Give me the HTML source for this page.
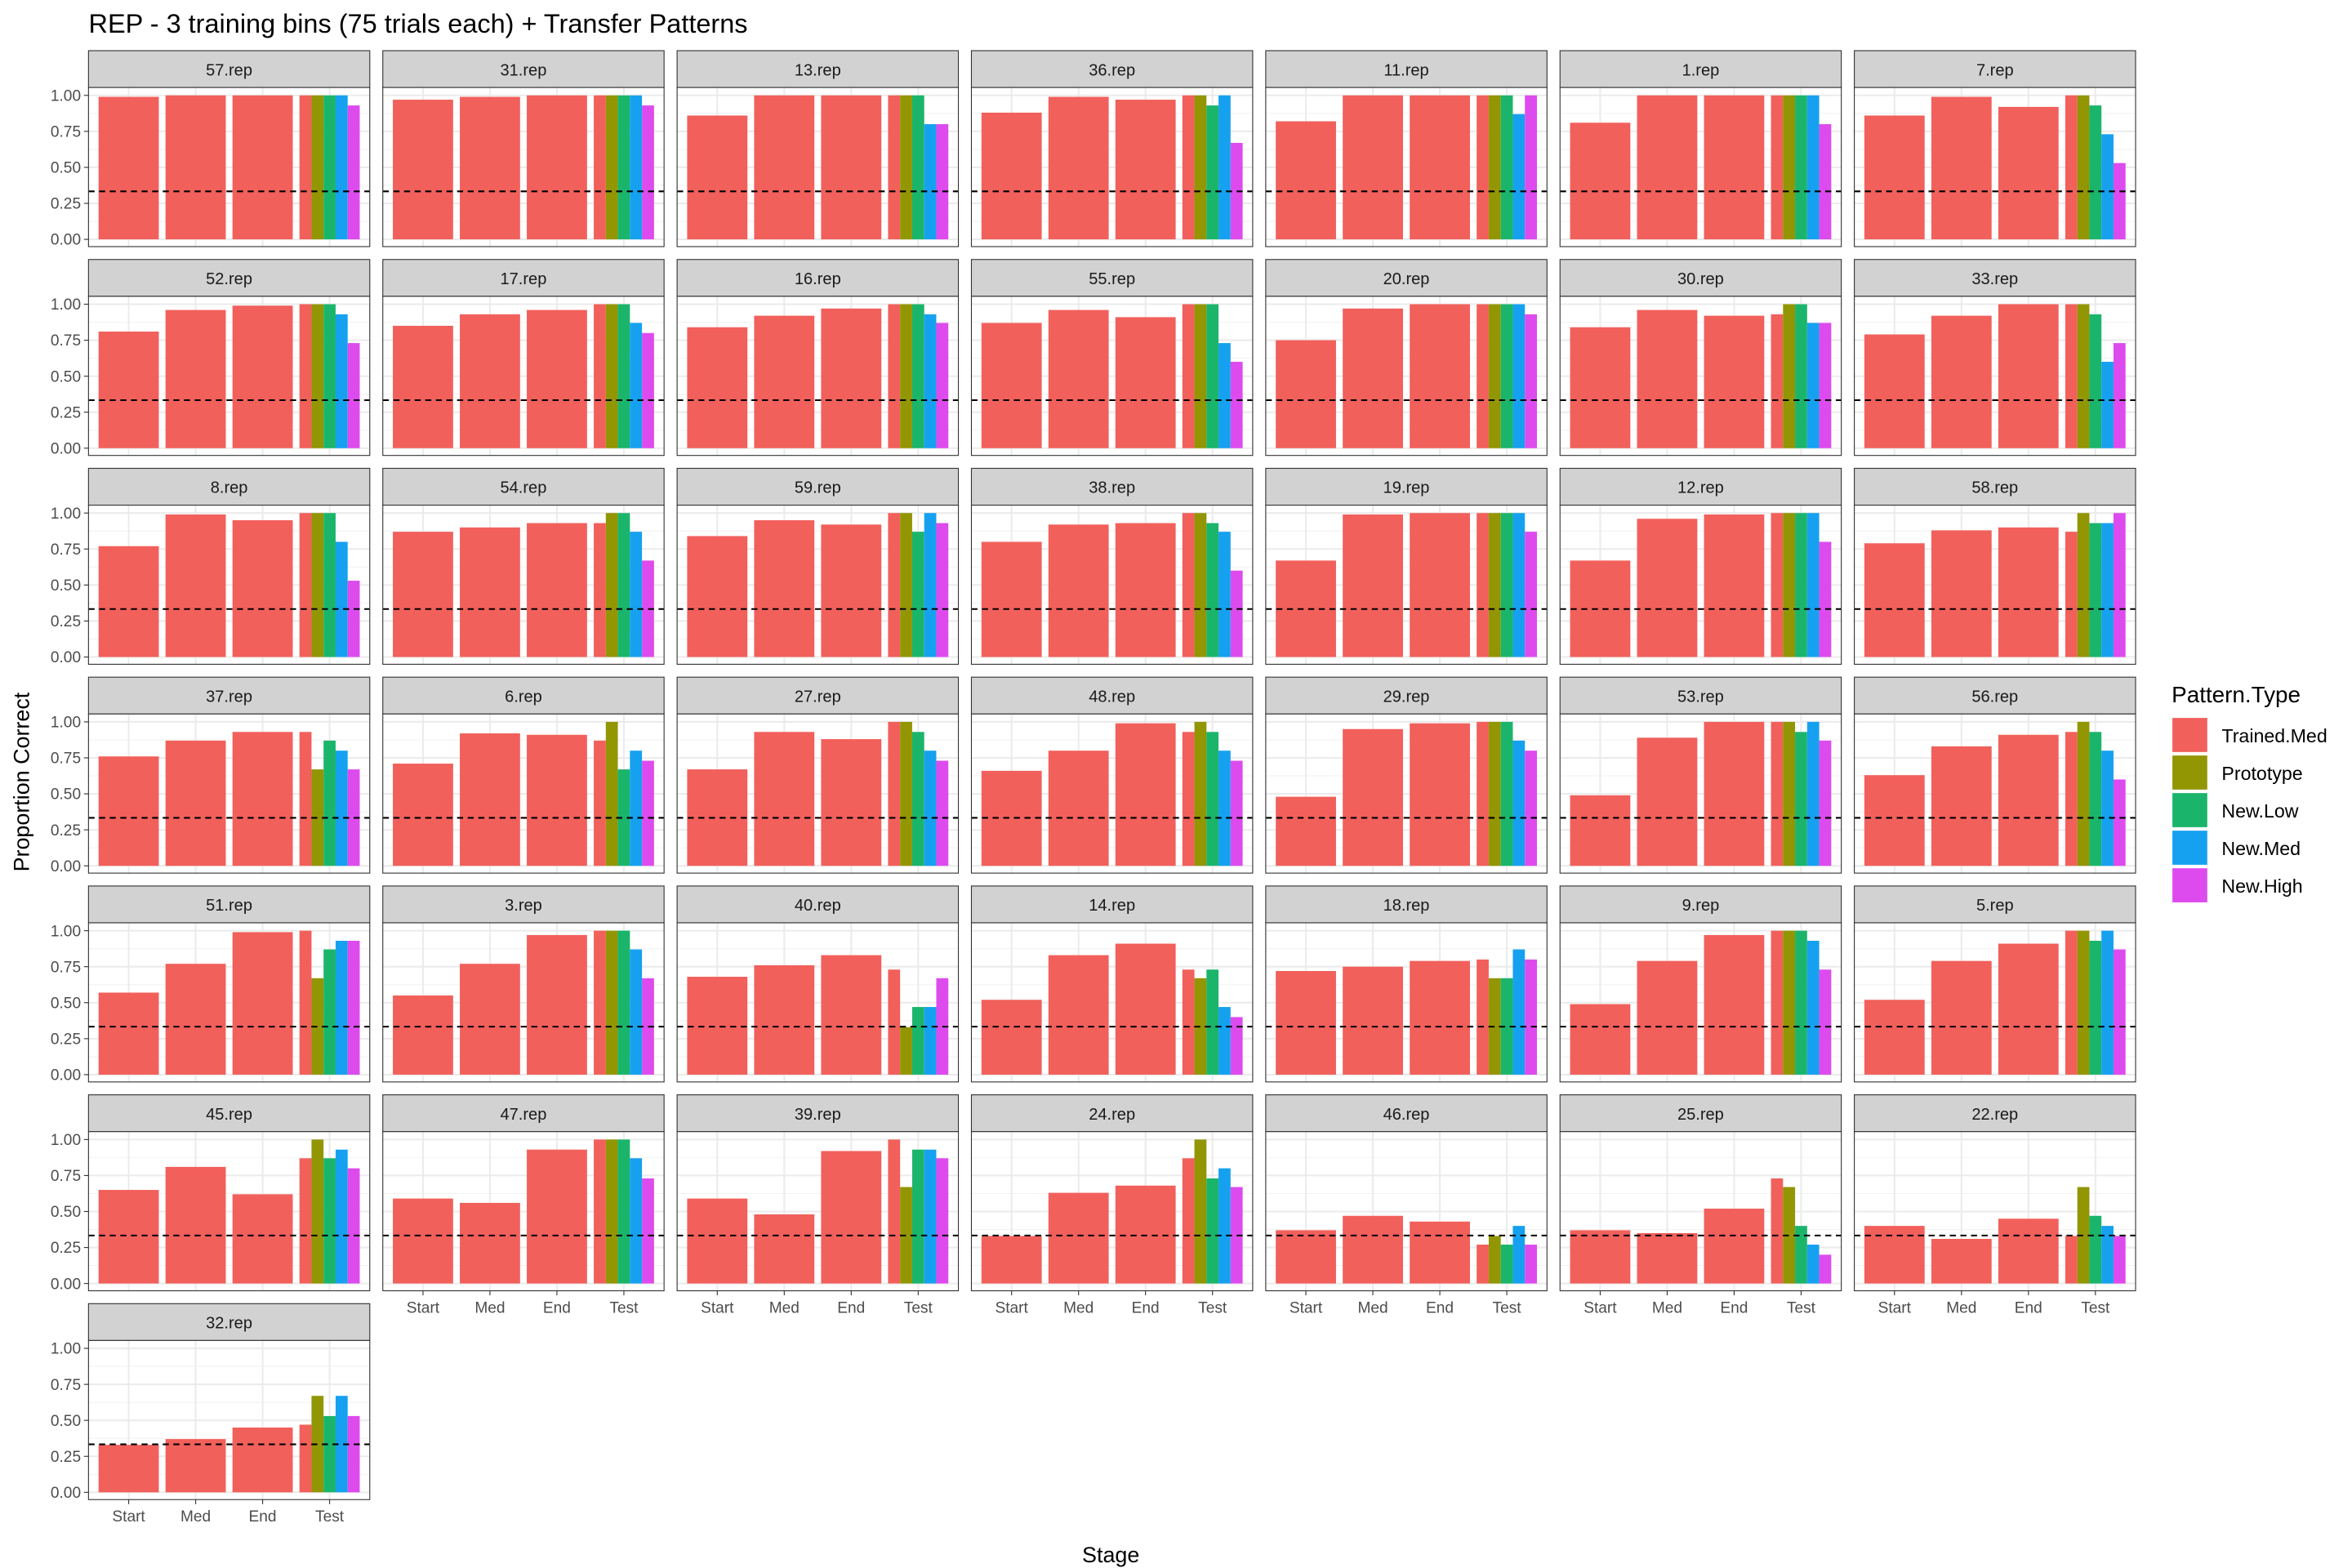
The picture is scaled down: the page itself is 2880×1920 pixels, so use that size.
<!DOCTYPE html>
<html><head><meta charset="utf-8"><style>
html,body{margin:0;padding:0;background:#fff}
svg{display:block}
text{font-family:"Liberation Sans",Arial,sans-serif}
</style></head><body>
<svg id="chart" xmlns="http://www.w3.org/2000/svg" width="2880" height="1920" viewBox="0 0 1552 1034.6">
<rect x="0" y="0" width="1552" height="1034.6" fill="#fff"/>
<text x="58.5" y="21.6" font-size="17.5" fill="#000">REP - 3 training bins (75 trials each) + Transfer Patterns</text>
<text x="733" y="1031" font-size="14.5" text-anchor="middle" fill="#000">Stage</text>
<text x="0" y="0" font-size="14.5" text-anchor="middle" fill="#000" transform="translate(19,516) rotate(-90)">Proportion Correct</text>
<g id="panels"></g>
<g id="legend">
<text x="1433" y="463.5" font-size="15" fill="#000">Pattern.Type</text>
</g>
</svg>
<script>
const panelNames = ["57.rep","31.rep","13.rep","36.rep","11.rep","1.rep","7.rep",
"52.rep","17.rep","16.rep","55.rep","20.rep","30.rep","33.rep",
"8.rep","54.rep","59.rep","38.rep","19.rep","12.rep","58.rep",
"37.rep","6.rep","27.rep","48.rep","29.rep","53.rep","56.rep",
"51.rep","3.rep","40.rep","14.rep","18.rep","9.rep","5.rep",
"45.rep","47.rep","39.rep","24.rep","46.rep","25.rep","22.rep","32.rep"];
const stages = ["Start","Med","End","Test"];
const patternTypes = ["Trained.Med","Prototype","New.Low","New.Med","New.High"];
const trainingValues = [
[.99,1,1],[.97,.99,1],[.86,1,1],[.88,.99,.97],[.82,1,1],[.81,1,1],[.86,.99,.92],
[.81,.96,.99],[.85,.93,.96],[.84,.92,.97],[.87,.96,.91],[.75,.97,1],[.84,.96,.92],[.79,.92,1],
[.77,.99,.95],[.87,.9,.93],[.84,.95,.92],[.8,.92,.93],[.67,.99,1],[.67,.96,.99],[.79,.88,.9],
[.76,.87,.93],[.71,.92,.91],[.67,.93,.88],[.66,.8,.99],[.48,.95,.99],[.49,.89,1],[.63,.83,.91],
[.57,.77,.99],[.55,.77,.97],[.68,.76,.83],[.52,.83,.91],[.72,.75,.79],[.49,.79,.97],[.52,.79,.91],
[.65,.81,.62],[.59,.56,.93],[.59,.48,.92],[.33,.63,.68],[.37,.47,.43],[.37,.35,.52],[.4,.31,.45],
[.33,.37,.45]];
const testValues = [
[1,1,1,1,.93],[1,1,1,1,.93],[1,1,1,.8,.8],[1,1,.93,1,.67],[1,1,1,.87,1],[1,1,1,1,.8],[1,1,.93,.73,.53],
[1,1,1,.93,.73],[1,1,1,.87,.8],[1,1,1,.93,.87],[1,1,1,.73,.6],[1,1,1,1,.93],[.93,1,1,.87,.87],[1,1,.93,.6,.73],
[1,1,1,.8,.53],[.93,1,1,.87,.67],[1,1,.87,1,.93],[1,1,.93,.87,.6],[1,1,1,1,.87],[1,1,1,1,.8],[.87,1,.93,.93,1],
[.93,.67,.87,.8,.67],[.87,1,.67,.8,.73],[1,1,.93,.8,.73],[.93,1,.93,.8,.73],[1,1,1,.87,.8],[1,1,.93,1,.87],[.93,1,.93,.8,.6],
[1,.67,.87,.93,.93],[1,1,1,.87,.67],[.73,.33,.47,.47,.67],[.73,.67,.73,.47,.4],[.8,.67,.67,.87,.8],[1,1,1,.93,.73],[1,1,.93,1,.87],
[.87,1,.87,.93,.8],[1,1,1,.87,.73],[1,.67,.93,.93,.87],[.87,1,.73,.8,.67],[.27,.33,.27,.4,.27],[.73,.67,.4,.27,.2],[.33,.67,.47,.4,.33],
[.47,.67,.53,.67,.53]];
const yTicks = [0,0.25,0.5,0.75,1];
const yTickLabels = ["0.00","0.25","0.50","0.75","1.00"];
const chanceLevel = 1/3;
const colors = ["#F2605B","#939603","#1AB56B","#16A1F0","#DD4BEE"];

const NS="http://www.w3.org/2000/svg";
function mk(tag, attrs, parent){const e=document.createElementNS(NS,tag);for(const k in attrs)e.setAttribute(k,attrs[k]);parent.appendChild(e);return e;}
const root=document.getElementById('panels');
const colStep=194.2, L0=58.4, W=185.6, stripH=24.3, PH=105, rowStep=137.8, top0=33.4;
const unit=W/4.2;
function xCenter(L,i){return L+(i+0.6)*unit;}
function yPos(T,v){return T+100.2-95*v;}
const nCols=7;

panelNames.forEach((name,p)=>{
  const r=Math.floor(p/nCols), c=p%nCols;
  const L=L0+c*colStep, S=top0+r*rowStep, T=S+stripH;
  const g=mk('g',{},root);
  
  
  const st=mk('rect',{x:L,y:S,width:W,height:stripH,fill:'#d2d2d2',stroke:'#333','stroke-width':0.6},g);
  
  
  const stt=mk('text',{x:L+W/2,y:S+16.3,'font-size':10.8,'text-anchor':'middle',fill:'#1a1a1a'},g);
  stt.textContent=name;
  
  
  mk('rect',{x:L,y:T,width:W,height:PH,fill:'#fff'},g);
  for(let i=0;i<yTicks.length-1;i++){const yv=(yTicks[i]+yTicks[i+1])/2;const y=yPos(T,yv);mk('line',{x1:L,x2:L+W,y1:y,y2:y,stroke:'#f2f2f2','stroke-width':0.6},g);}
  yTicks.forEach(v=>{const y=yPos(T,v);mk('line',{x1:L,x2:L+W,y1:y,y2:y,stroke:'#ebebeb','stroke-width':1.1},g);});
  stages.forEach((s,i)=>{const x=xCenter(L,i);mk('line',{x1:x,x2:x,y1:T,y2:T+PH,stroke:'#ebebeb','stroke-width':1.1},g);});
  const bw=0.9*unit;
  trainingValues[p].forEach((v,i)=>{
    const x=xCenter(L,i)-bw/2, y=yPos(T,v);
    const b=mk('rect',{x:x,y:y,width:bw,height:yPos(T,0)-y,fill:colors[0]},g);
    
    
  });
  const sw=bw/5;
  testValues[p].forEach((v,k)=>{
    const x=xCenter(L,3)-bw/2+k*sw, y=yPos(T,v);
    const b=mk('rect',{x:x,y:y,width:sw,height:yPos(T,0)-y,fill:colors[k]},g);
    
    
  });
  const cy=yPos(T,chanceLevel);
  const cl=mk('line',{x1:L,x2:L+W,y1:cy,y2:cy,stroke:'#000','stroke-width':1.1,'stroke-dasharray':'4,3'},g);
  
  
  mk('rect',{x:L,y:T,width:W,height:PH,fill:'none',stroke:'#333','stroke-width':0.6},g);
  if(c===0){
    yTicks.forEach((v,i)=>{const y=yPos(T,v);
      mk('line',{x1:L-3,x2:L,y1:y,y2:y,stroke:'#333','stroke-width':0.6},g);
      const t=mk('text',{x:L-5,y:y+3.6,'font-size':10.3,'text-anchor':'end',fill:'#4d4d4d'},g);
      t.textContent=yTickLabels[i];
      
      
    });
  }
  if(p+nCols>=panelNames.length){
    stages.forEach((s,i)=>{const x=xCenter(L,i);
      mk('line',{x1:x,x2:x,y1:T+PH,y2:T+PH+3,stroke:'#333','stroke-width':0.6},g);
      const t=mk('text',{x:x,y:T+PH+14.5,'font-size':10.3,'text-anchor':'middle',fill:'#4d4d4d'},g);
      t.textContent=s;
      
      
    });
  }
});
const lg=document.getElementById('legend');
patternTypes.forEach((pt,k)=>{
  const y=473.7+k*24.8;
  const g=mk('g',{},lg);
  
  
  mk('rect',{x:1433.5,y:y,width:23,height:22.5,fill:colors[k]},g);
  const t=mk('text',{x:1466,y:y+16,'font-size':12.5,fill:'#000'},g);
  t.textContent=pt;
});
</script>
</body></html>
